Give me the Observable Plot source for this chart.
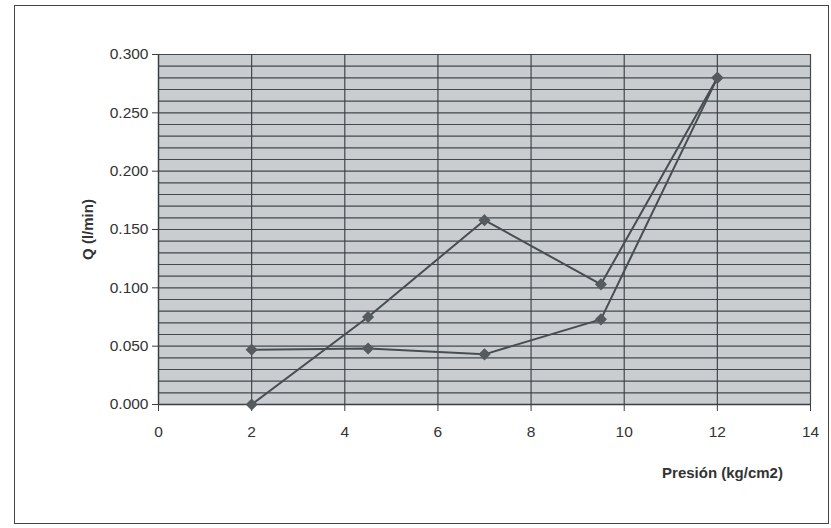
<!DOCTYPE html>
<html>
<head>
<meta charset="utf-8">
<script src="https://cdn.jsdelivr.net/npm/d3@7"></script>
<script src="https://cdn.jsdelivr.net/npm/@observablehq/plot@0.6"></script>
<style>
  html, body { margin: 0; padding: 0; background: #fff; }
  #wrap { position: relative; width: 831px; height: 528px; overflow: hidden; }
  #border { position: absolute; left: 14px; top: 5px; width: 815px; height: 519px; border: 1.3px solid #444; box-sizing: border-box; pointer-events: none; }
  svg { font-family: "Liberation Sans", Arial, sans-serif; }
</style>
</head>
<body>
<div id="wrap"><div id="border"></div></div>
<script>
// Data
const pressure = [2, 4.5, 7, 9.5, 12];          // Presión (kg/cm2)
const qSeriesA = [0.000, 0.075, 0.158, 0.103, 0.280]; // Q (l/min), series 1
const qSeriesB = [0.047, 0.048, 0.043, 0.073, 0.280]; // Q (l/min), series 2
const xTicks = [0, 2, 4, 6, 8, 10, 12, 14];
const yTicks = [0, 0.05, 0.10, 0.15, 0.20, 0.25, 0.30];
const yGrid = d3.range(1, 31).map(i => i / 100); // minor gridlines every 0.01
const xLabel = "Presión (kg/cm2)";
const yLabel = "Q (l/min)";

const seriesA = pressure.map((p, i) => ({p, q: qSeriesA[i]}));
const seriesB = pressure.map((p, i) => ({p, q: qSeriesB[i]}));

const ink = "#474e53";

const chart = Plot.plot({
  width: 831,
  height: 528,
  marginLeft: 158,
  marginRight: 21,
  marginTop: 54,
  marginBottom: 124,
  style: {fontFamily: "'Liberation Sans', Arial, sans-serif", fontSize: "15px", color: "#333", background: "transparent", overflow: "visible"},
  x: {domain: [0, 14]},
  y: {domain: [0, 0.3]},
  marks: [
    Plot.frame({fill: "#c9cdd0", stroke: "none"}),
    Plot.gridY(yGrid, {stroke: "#3a4146", strokeOpacity: 0.95, strokeWidth: 1.2}),
    Plot.gridX(xTicks, {stroke: "#3a4146", strokeOpacity: 0.95, strokeWidth: 1.2}),
    Plot.ruleX([0], {stroke: "#3a3f43", strokeWidth: 1.3}),
    Plot.ruleY([0], {stroke: "#3a3f43", strokeWidth: 1.3}),
    Plot.axisY({ticks: yTicks, tickFormat: d3.format(".3f"), tickSize: 6, tickPadding: 4, label: null, fontSize: 15.5, stroke: "#3a3f43"}),
    Plot.axisX({ticks: xTicks, tickFormat: d => d, tickSize: 7, tickPadding: 14, label: null, fontSize: 15.5, stroke: "#3a3f43"}),
    Plot.line(seriesA, {x: "p", y: "q", stroke: ink, strokeWidth: 2}),
    Plot.line(seriesB, {x: "p", y: "q", stroke: ink, strokeWidth: 2}),
    Plot.dot(seriesA, {x: "p", y: "q", symbol: "diamond2", r: 4.5, fill: "#555b5f", stroke: "#555b5f"}),
    Plot.dot(seriesB, {x: "p", y: "q", symbol: "diamond2", r: 4.5, fill: "#555b5f", stroke: "#555b5f"}),
    Plot.text([yLabel], {text: d => d, frameAnchor: "left", dx: -70, rotate: -90, textAnchor: "middle", fontWeight: "bold", fontSize: 15, fill: "#333"}),
    Plot.text([xLabel], {text: d => d, frameAnchor: "bottom-right", dx: -88, dy: 73, textAnchor: "middle", fontWeight: "bold", fontSize: 15, fill: "#333"})
  ]
});
document.getElementById("wrap").prepend(chart);
chart.style.position = "absolute";
chart.style.left = "0px";
chart.style.top = "0px";
</script>
</body>
</html>
